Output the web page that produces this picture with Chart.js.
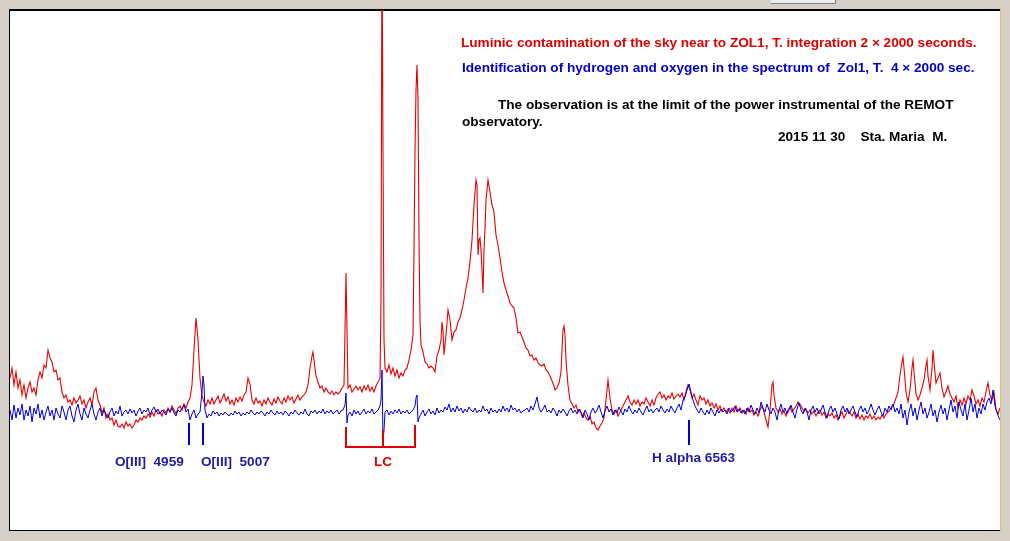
<!DOCTYPE html>
<html>
<head>
<meta charset="utf-8">
<script src="https://cdn.jsdelivr.net/npm/chart.js@4.4.0/dist/chart.umd.min.js"></script>
<style>
  html, body { margin: 0; padding: 0; background: #d4d0c8; overflow: hidden; }
  canvas { display: block; }
</style>
</head>
<body>
<canvas id="spectrum" width="1010" height="541"></canvas>
<script>
// sky contamination spectrum (red): [channel, counts]
const skySpectrum = [[0,152],[2,162],[4,145],[6,158],[8,142],[10,150],[12,135],[14,145],[16,132],[18,142],[20,148],[22,138],[24,142],[26,135],[28,150],[30,158],[32,152],[34,165],[36,162],[38,180],[40,172],[42,168],[44,158],[46,160],[48,150],[50,152],[52,138],[54,132],[56,135],[58,128],[60,130],[62,125],[64,132],[66,127],[68,130],[70,134],[72,126],[74,130],[76,122],[78,128],[80,132],[82,125],[84,138],[86,142],[88,130],[90,125],[92,117],[94,122],[96,112],[98,116],[100,110],[102,112],[104,105],[106,110],[108,104],[110,103],[112,106],[114,102],[116,108],[118,104],[120,106],[122,102],[124,105],[126,110],[128,108],[130,112],[132,110],[134,114],[136,112],[138,116],[140,113],[142,118],[144,114],[146,120],[148,116],[150,118],[152,114],[154,120],[156,117],[158,122],[160,118],[162,124],[164,120],[166,116],[168,122],[170,124],[172,120],[174,126],[176,122],[178,128],[180,132],[182,145],[184,180],[186,212],[188,190],[190,152],[192,134],[194,128],[196,124],[198,130],[200,126],[202,132],[204,126],[206,130],[208,134],[210,127],[212,131],[214,136],[216,129],[218,133],[220,126],[222,130],[224,125],[226,132],[228,128],[230,133],[232,129],[234,135],[236,138],[238,152],[240,146],[242,130],[244,126],[246,132],[248,127],[250,129],[252,124],[254,130],[256,126],[258,132],[260,128],[262,125],[264,131],[266,127],[268,133],[270,129],[272,126],[274,132],[276,128],[278,134],[280,130],[282,133],[284,127],[286,131],[288,135],[290,130],[292,133],[294,135],[296,138],[298,145],[300,162],[302,174],[303,178],[304,170],[306,154],[308,148],[310,142],[312,144],[314,138],[316,142],[318,138],[320,136],[322,139],[324,135],[326,138],[328,136],[330,138],[332,142],[334,145],[335,200],[336,257],[337,200],[338,142],[340,145],[342,138],[344,141],[346,144],[348,140],[350,143],[352,138],[354,144],[356,140],[358,145],[360,139],[362,143],[364,138],[366,144],[368,148],[370,152],[371,230],[372,600],[373,380],[374,190],[375,162],[377,158],[379,165],[381,156],[383,162],[385,154],[387,160],[389,152],[391,157],[393,154],[395,160],[397,162],[399,170],[401,180],[403,195],[404,280],[405,380],[406,440],[407,465],[408,430],[409,290],[410,210],[411,185],[413,178],[415,168],[417,166],[419,162],[421,164],[423,162],[425,158],[427,174],[429,180],[431,190],[432,208],[433,200],[434,175],[436,195],[438,220],[440,210],[442,190],[444,198],[446,200],[448,208],[450,212],[452,220],[454,230],[456,242],[458,252],[460,268],[462,290],[464,325],[466,350],[467,345],[468,275],[469,290],[470,292],[471,280],[472,260],[473,237],[474,280],[475,302],[476,330],[478,350],[480,338],[482,325],[484,318],[486,295],[488,285],[490,272],[492,258],[494,247],[496,240],[498,234],[500,227],[502,224],[504,222],[506,212],[508,197],[510,198],[512,193],[514,188],[516,182],[518,180],[520,174],[522,175],[524,170],[526,172],[528,167],[530,165],[532,164],[534,166],[536,160],[538,158],[540,154],[542,149],[544,144],[545,140],[547,142],[549,147],[551,158],[552,180],[553,200],[554,204],[555,195],[556,170],[558,145],[560,130],[562,126],[564,122],[566,125],[568,118],[570,120],[572,114],[574,117],[576,112],[578,110],[580,114],[582,106],[584,108],[586,102],[588,100],[590,104],[592,107],[594,112],[596,130],[598,150],[600,132],[602,120],[604,116],[606,120],[608,114],[610,118],[612,122],[614,126],[616,130],[618,134],[620,128],[622,125],[624,130],[626,126],[628,130],[630,124],[632,128],[634,126],[636,132],[638,128],[640,124],[642,130],[644,125],[646,132],[648,136],[650,138],[652,132],[654,135],[656,130],[658,134],[660,132],[662,137],[664,131],[666,134],[668,136],[670,133],[672,137],[674,130],[676,138],[678,145],[680,140],[682,132],[684,136],[686,130],[688,125],[690,134],[692,130],[694,132],[696,126],[698,130],[700,124],[702,127],[704,122],[706,126],[708,120],[710,124],[712,119],[714,122],[716,118],[718,121],[720,117],[722,122],[724,118],[726,124],[728,119],[730,122],[732,117],[734,120],[736,116],[738,122],[740,118],[742,120],[744,115],[746,118],[748,114],[750,120],[752,124],[754,118],[756,110],[758,103],[760,120],[762,145],[763,148],[764,135],[766,122],[768,118],[770,121],[772,116],[774,119],[776,114],[778,120],[780,123],[782,118],[784,121],[786,124],[788,128],[790,126],[792,122],[794,118],[796,121],[798,117],[800,120],[802,116],[804,119],[806,114],[808,118],[810,120],[812,115],[814,118],[816,112],[818,116],[820,114],[822,117],[824,112],[826,115],[828,110],[830,114],[832,118],[834,112],[836,116],[838,120],[840,117],[842,114],[844,118],[846,112],[848,116],[850,111],[852,115],[854,110],[856,114],[858,112],[860,116],[862,111],[864,114],[866,110],[868,113],[870,111],[872,115],[874,112],[876,116],[878,118],[880,120],[882,124],[884,126],[886,132],[888,138],[890,155],[892,168],[893,173],[894,162],[896,138],[898,128],[900,140],[902,162],[903,170],[904,158],[906,136],[908,130],[910,135],[912,142],[914,150],[916,165],[917,170],[918,154],[920,140],[922,162],[923,180],[924,168],[926,147],[928,152],[930,157],[932,142],[934,133],[936,138],[938,144],[940,136],[942,132],[944,128],[946,134],[948,122],[950,130],[952,125],[954,132],[956,126],[958,134],[960,130],[962,140],[964,134],[966,126],[968,130],[970,124],[972,132],[974,128],[976,138],[978,147],[980,135],[982,130],[984,138],[986,120],[988,116],[990,122]];

// ZOL1 spectrum (blue): [channel, counts]
const zolSpectrum = [[0,120],[2,110],[4,125],[6,112],[8,122],[10,115],[12,126],[14,110],[16,120],[18,114],[20,124],[22,108],[24,122],[26,116],[28,126],[30,112],[32,120],[34,110],[36,118],[38,124],[40,114],[42,120],[44,110],[46,122],[48,116],[50,112],[52,124],[54,118],[56,110],[58,120],[60,124],[62,114],[64,108],[66,120],[68,126],[70,116],[72,110],[74,122],[76,116],[78,112],[80,120],[82,126],[84,116],[86,110],[88,118],[90,122],[92,114],[94,120],[96,116],[98,112],[100,118],[102,122],[104,114],[106,119],[108,116],[110,124],[112,114],[114,118],[116,120],[118,116],[120,121],[122,117],[124,120],[126,114],[128,119],[130,122],[132,116],[134,120],[136,118],[138,122],[140,115],[142,120],[144,123],[146,118],[148,121],[150,116],[152,120],[154,118],[156,115],[158,121],[160,118],[162,122],[164,117],[166,114],[168,120],[170,118],[172,122],[174,125],[176,118],[178,121],[180,110],[182,116],[184,120],[186,112],[188,116],[190,118],[192,138],[193,154],[194,145],[195,120],[197,112],[199,116],[201,114],[203,119],[205,116],[207,118],[209,114],[211,117],[213,115],[215,118],[217,116],[219,114],[221,117],[223,115],[225,119],[227,116],[229,118],[231,114],[233,117],[235,115],[237,118],[239,116],[241,120],[243,117],[245,115],[247,118],[249,116],[251,119],[253,117],[255,114],[257,118],[259,116],[261,120],[263,117],[265,115],[267,119],[269,116],[271,118],[273,115],[275,119],[277,117],[279,114],[281,118],[283,116],[285,120],[287,117],[289,115],[291,118],[293,116],[295,121],[297,116],[299,114],[301,119],[303,117],[305,120],[307,116],[309,119],[311,117],[313,121],[315,116],[317,119],[319,117],[321,120],[323,116],[325,118],[327,120],[329,116],[331,119],[333,120],[335,125],[336,137],[337,107],[338,115],[340,118],[342,114],[344,120],[346,116],[348,119],[350,115],[352,118],[354,121],[356,116],[358,119],[360,117],[362,121],[364,116],[366,118],[368,120],[370,124],[371,130],[372,160],[373,90],[374,100],[375,118],[377,120],[379,115],[381,119],[383,116],[385,120],[387,117],[389,121],[391,116],[393,119],[395,117],[397,120],[399,116],[401,118],[403,120],[405,124],[406,132],[407,135],[408,108],[409,112],[411,116],[413,120],[415,114],[417,118],[419,121],[421,116],[423,119],[425,115],[427,122],[429,117],[431,120],[433,118],[435,123],[437,120],[439,126],[441,118],[443,122],[445,118],[447,124],[449,119],[451,122],[453,117],[455,121],[457,118],[459,123],[461,120],[463,118],[465,122],[467,117],[469,120],[471,118],[473,124],[475,119],[477,121],[479,116],[481,122],[483,118],[485,120],[487,117],[489,121],[491,118],[493,124],[495,119],[497,122],[499,118],[501,125],[503,120],[505,122],[507,118],[509,121],[511,117],[513,119],[515,120],[517,122],[519,118],[521,124],[523,120],[525,126],[527,133],[529,122],[531,118],[533,121],[535,125],[537,118],[539,120],[541,117],[543,122],[545,119],[547,114],[549,120],[551,117],[553,121],[555,118],[557,114],[559,119],[561,122],[563,117],[565,120],[567,116],[569,121],[571,118],[573,112],[575,120],[577,116],[579,110],[581,118],[583,122],[585,117],[587,120],[589,125],[591,118],[593,112],[595,119],[597,124],[599,118],[601,121],[603,115],[605,120],[607,117],[609,123],[611,119],[613,115],[615,121],[617,118],[619,124],[621,119],[623,116],[625,120],[627,117],[629,122],[631,118],[633,115],[635,120],[637,124],[639,118],[641,121],[643,117],[645,120],[647,122],[649,118],[651,124],[653,120],[655,117],[657,121],[659,118],[661,124],[663,120],[665,117],[667,122],[669,126],[671,120],[673,130],[675,133],[677,140],[679,146],[681,138],[683,130],[685,124],[687,120],[689,117],[691,122],[693,118],[695,115],[697,120],[699,116],[701,122],[703,118],[705,114],[707,120],[709,117],[711,121],[713,118],[715,120],[717,116],[719,122],[721,118],[723,120],[725,124],[727,118],[729,121],[731,117],[733,120],[735,116],[737,122],[739,118],[741,125],[743,120],[745,116],[747,122],[749,117],[751,128],[753,122],[755,118],[757,126],[759,120],[761,116],[763,122],[765,118],[767,110],[769,120],[771,126],[773,118],[775,122],[777,116],[779,120],[781,125],[783,118],[785,112],[787,121],[789,127],[791,120],[793,116],[795,122],[797,118],[799,110],[801,120],[803,124],[805,118],[807,122],[809,116],[811,120],[813,125],[815,118],[817,112],[819,120],[821,124],[823,118],[825,122],[827,116],[829,111],[831,120],[833,124],[835,118],[837,122],[839,116],[841,120],[843,124],[845,118],[847,113],[849,120],[851,124],[853,118],[855,122],[857,116],[859,120],[861,126],[863,120],[865,115],[867,120],[869,124],[871,118],[873,114],[875,122],[877,118],[879,124],[881,120],[883,126],[885,118],[887,122],[889,116],[891,126],[893,112],[895,120],[897,105],[899,118],[901,126],[903,114],[905,122],[907,110],[909,120],[911,128],[913,116],[915,122],[917,112],[919,118],[921,126],[923,114],[925,120],[927,108],[929,118],[931,125],[933,116],[935,122],[937,110],[939,120],[941,130],[943,118],[945,124],[947,112],[949,128],[951,120],[953,114],[955,126],[957,110],[959,120],[961,132],[963,118],[965,126],[967,112],[969,122],[971,116],[973,126],[975,120],[977,128],[979,132],[981,126],[983,140],[985,124],[987,118],[989,112],[990,110]];

// identified lines
const lineNames = ['O[III]  4959', 'O[III]  5007', 'H alpha 6563'];
const lineChannels = [179, 193, 679];
const lineLabelChannels = [105, 191, 642];

// luminic contamination bracket
const lcChannels = [336, 373, 405];

const notes = [
  { text: 'Luminic contamination of the sky near to ZOL1, T. integration 2 \u00d7 2000 seconds.', ch: 451, y: 487, color: '#dc0000' },
  { text: 'Identification of hydrogen and oxygen in the spectrum of  Zol1, T.  4 \u00d7 2000 sec.', ch: 452, y: 462, color: '#0000c8' },
  { text: 'The observation is at the limit of the power instrumental of the REMOT', ch: 488, y: 425, color: '#000000' },
  { text: 'observatory.', ch: 452, y: 408, color: '#000000' },
  { text: '2015 11 30    Sta. Maria  M.', ch: 768, y: 393, color: '#000000' }
];

const FONT = 'bold 13.6px "Liberation Sans", Arial, sans-serif';

const framePlugin = {
  id: 'frame',
  beforeDraw(chart) {
    const { ctx, chartArea: a } = chart;
    ctx.save();
    // small button stub at the top of the window
    ctx.fillStyle = '#ececec';
    ctx.fillRect(771, 0, 64, 3);
    ctx.fillStyle = '#808080';
    ctx.fillRect(771, 3, 65, 1);
    ctx.fillRect(835, 0, 1, 4);
    // white plot area
    ctx.fillStyle = '#ffffff';
    ctx.fillRect(a.left, a.top, a.right - a.left, a.bottom - a.top);
    ctx.fillStyle = '#000000';
    ctx.fillRect(a.left - 1, a.top - 1, a.right - a.left + 1, 2);
    ctx.fillRect(a.left - 1, a.top - 1, 1, a.bottom - a.top + 1);
    ctx.fillRect(a.left - 1, a.bottom, a.right - a.left + 1, 1);
    ctx.fillStyle = '#f2b866';
    ctx.fillRect(a.right, a.top - 1, 1, a.bottom - a.top + 2);
    ctx.restore();
  },
  afterDatasetsDraw(chart) {
    const { ctx } = chart;
    const xs = chart.scales.x, ys = chart.scales.y;
    const px = v => xs.getPixelForValue(v);
    const py = v => ys.getPixelForValue(v);
    ctx.save();
    ctx.font = FONT;
    ctx.textBaseline = 'middle';

    // line markers
    ctx.fillStyle = '#0000d0';
    lineChannels.forEach((c, i) => {
      const top = i === 2 ? 110 : 107;
      ctx.fillRect(Math.round(px(c)) - 1, py(top), 2, py(85) - py(top));
    });
    ctx.fillStyle = '#1c1ca8';
    ctx.textAlign = 'left';
    lineNames.forEach((n, i) => {
      ctx.fillText(n, px(lineLabelChannels[i]), py(i === 2 ? 72 : 68));
    });

    // LC bracket
    ctx.fillStyle = '#dc0000';
    const b = py(83);
    ctx.fillRect(Math.round(px(lcChannels[0])) - 1, py(103), 2, b - py(103) + 1);
    ctx.fillRect(Math.round(px(lcChannels[1])) - 1, py(100), 2, b - py(100) + 1);
    ctx.fillRect(Math.round(px(lcChannels[2])) - 1, py(105), 2, b - py(105) + 1);
    ctx.fillRect(Math.round(px(lcChannels[0])) - 1, b - 1, px(lcChannels[2]) - px(lcChannels[0]) + 2, 2);
    ctx.textAlign = 'center';
    ctx.fillText('LC', px(lcChannels[1]), py(68));

    // notes
    ctx.textAlign = 'left';
    notes.forEach(n => {
      ctx.fillStyle = n.color;
      ctx.fillText(n.text, px(n.ch), py(n.y));
    });
    ctx.restore();
  }
};

const toPoints = s => s.map(p => ({ x: p[0], y: p[1] }));

new Chart(document.getElementById('spectrum'), {
  type: 'line',
  data: {
    datasets: [
      {
        label: 'ZOL1',
        data: toPoints(zolSpectrum),
        borderColor: '#0000e0',
        borderWidth: 1,
        pointRadius: 0,
        tension: 0,
        clip: 0
      },
      {
        label: 'Sky',
        data: toPoints(skySpectrum),
        borderColor: '#e60000',
        borderWidth: 1.1,
        pointRadius: 0,
        tension: 0,
        clip: 0
      }
    ]
  },
  options: {
    responsive: false,
    animation: false,
    events: [],
    layout: { padding: { left: 10, right: 10, top: 10, bottom: 11 } },
    plugins: { legend: { display: false }, tooltip: { enabled: false } },
    scales: {
      x: { type: 'linear', min: 0, max: 990, display: false },
      y: { type: 'linear', min: 0, max: 520, display: false }
    }
  },
  plugins: [framePlugin]
});
</script>
</body>
</html>
